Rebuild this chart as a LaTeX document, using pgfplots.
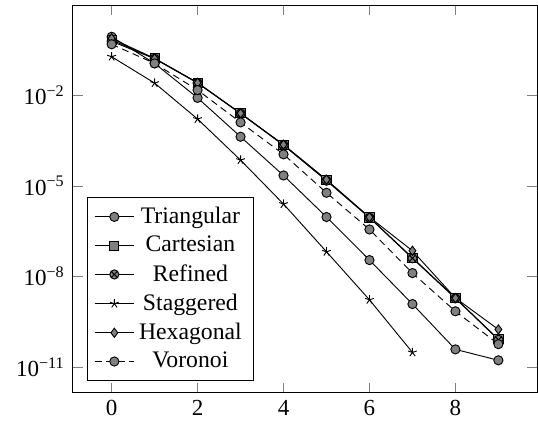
\documentclass[border=0pt]{standalone}
\usepackage{fontspec}
\setmainfont{Liberation Serif}
\usepackage{pgfplots}
\pgfplotsset{compat=1.18}
\begin{document}
\begin{tikzpicture}
\begin{axis}[
  name=ax,
  scale only axis,
  width=201.7pt, height=168.3pt,
  ymode=log,
  xmin=-0.9, xmax=9.9,
  ymin=1.48e-12, ymax=9.5,
  xtick={0,2,4,6,8},
  ytick={1e-2,1e-5,1e-8,1e-11},
  yticklabels={10\textsuperscript{−2},10\textsuperscript{−5},10\textsuperscript{−8},10\textsuperscript{−11}},
  /pgf/number format/assume math mode=true,
  cycle list name=black white,
  legend pos=south west,
  legend cell align=center,
  legend style={font=\fontsize{10.3pt}{12.8pt}\selectfont},
]
\addplot coordinates {(0,0.85) (1,0.112) (2,0.0081) (3,4.2e-4) (4,2.2e-5) (5,9.3e-7) (6,3.5e-8) (7,1.23e-9) (8,3.9e-11) (9,1.7e-11)};
\addlegendentry{Triangular}
\addplot coordinates {(0,0.66) (1,0.165) (2,0.0257) (3,0.00250) (4,2.25e-4) (5,1.52e-5) (6,9.0e-7) (7,4.2e-8) (8,1.95e-9) (9,8.5e-11)};
\addlegendentry{Cartesian}
\addplot coordinates {(0,0.60) (1,0.160) (2,0.0250) (3,0.00245) (4,2.2e-4) (5,1.48e-5) (6,8.8e-7) (7,4.0e-8) (8,1.9e-9) (9,8.1e-11)};
\addlegendentry{Refined}
\addplot coordinates {(0,0.186) (1,0.025) (2,0.00162) (3,7.1e-5) (4,2.5e-6) (5,6.6e-8) (6,1.7e-9) (7,3.1e-11)};
\addlegendentry{Staggered}
\addplot coordinates {(0,0.75) (1,0.162) (2,0.0255) (3,0.00250) (4,2.3e-4) (5,1.6e-5) (6,9.2e-7) (7,7.1e-8) (8,1.95e-9) (9,1.78e-10)};
\addlegendentry{Hexagonal}
\addplot coordinates {(0,0.48) (1,0.112) (2,0.0147) (3,0.00125) (4,1.1e-4) (5,5.9e-6) (6,3.6e-7) (7,1.3e-8) (8,7.1e-10) (9,5.8e-11)};
\addlegendentry{Voronoi}
\end{axis}
\path ([shift={(-31.7pt,-16.5pt)}]ax.south west) rectangle ([shift={(0.4pt,2.2pt)}]ax.north east);
\end{tikzpicture}
\end{document}
